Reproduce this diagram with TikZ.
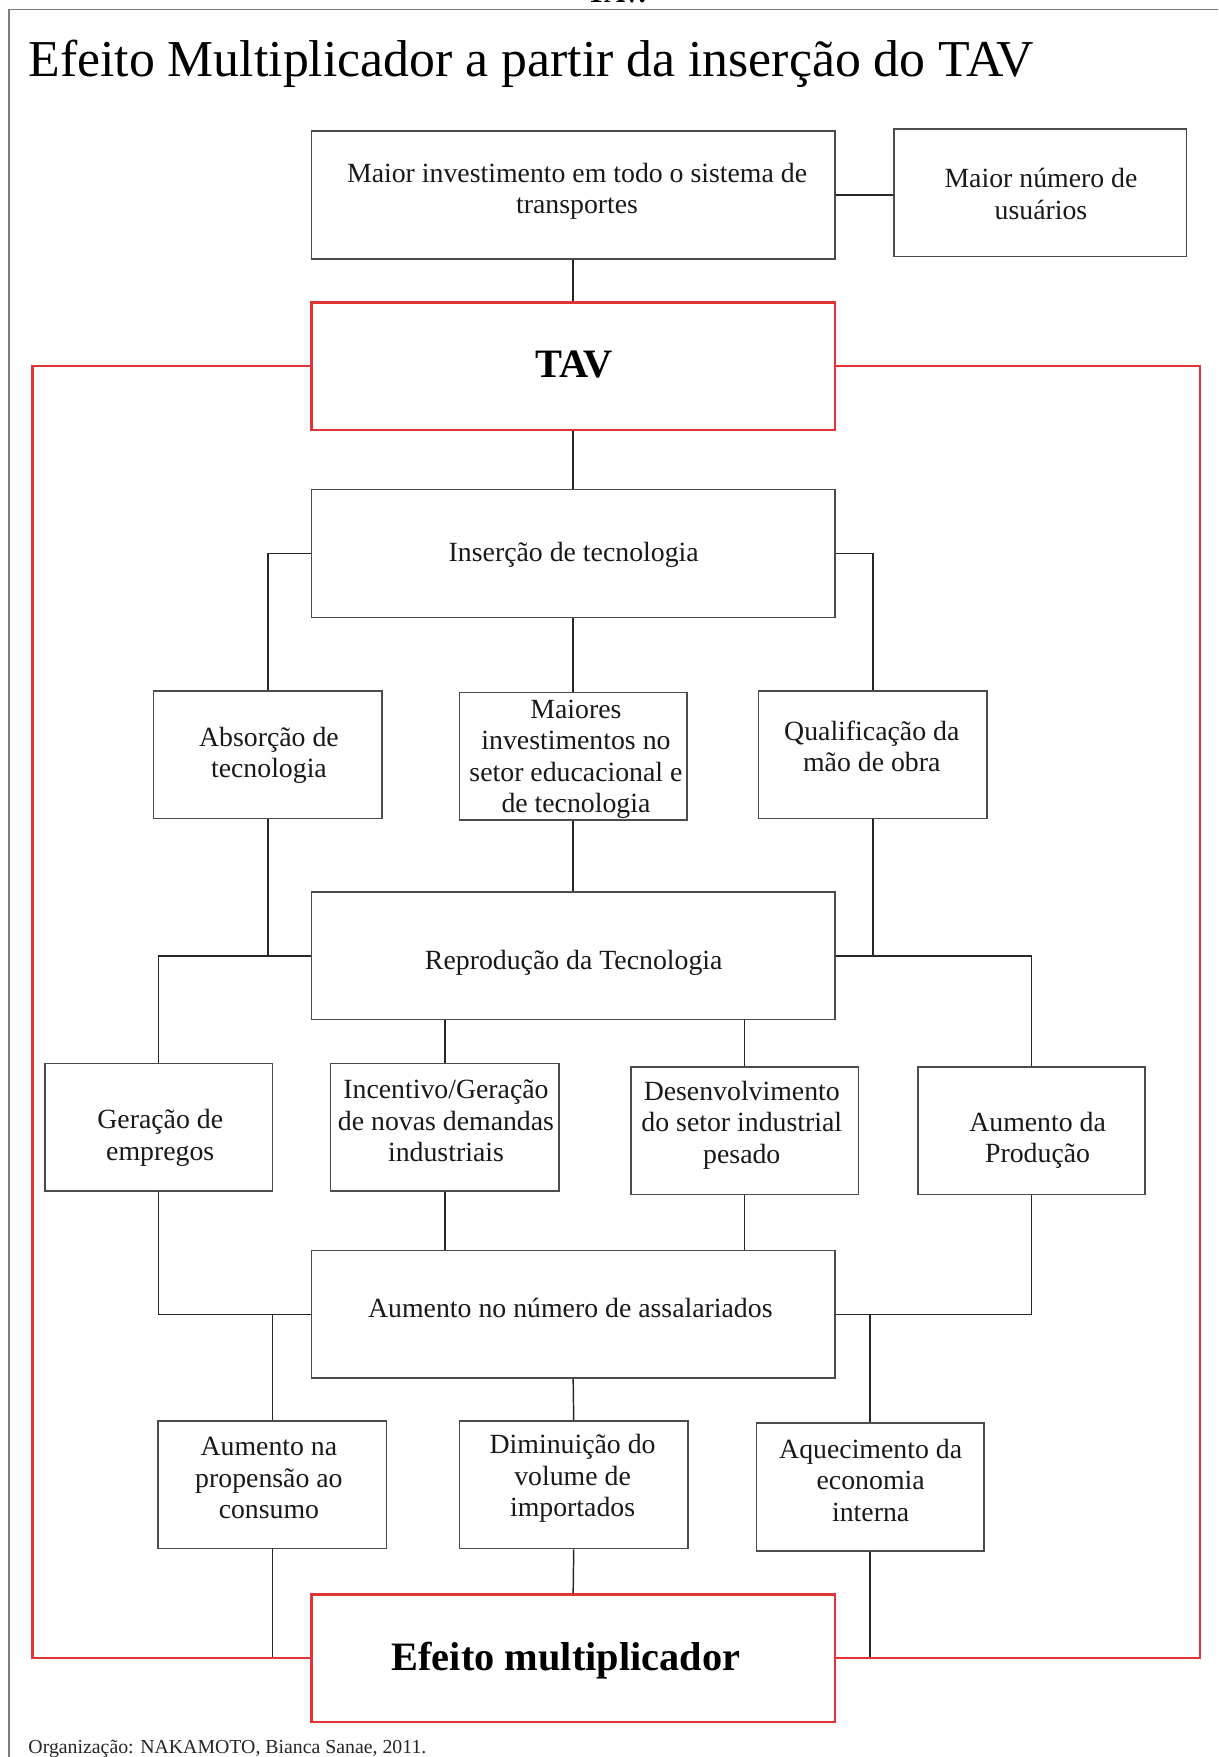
\documentclass[tikz,border=0pt]{standalone}
\usepackage{fontspec}
\setmainfont{Liberation Serif}
\definecolor{boxgray}{RGB}{75,75,75}
\definecolor{tavred}{RGB}{226,52,52}
\definecolor{framegray}{RGB}{125,125,125}
\begin{document}
\begin{tikzpicture}[x=0.5pt,y=-0.5pt,
  box/.style={draw=boxgray, line width=0.7pt, minimum width=#1, minimum height=57pt, inner sep=0pt},
  redbox/.style={draw=tavred, line width=1pt, minimum width=233.5pt, minimum height=57pt, inner sep=0pt},
  txt/.style={align=center, font=\fontsize{12.4}{14}\selectfont, inner sep=0pt, text=black!90},
  bigtxt/.style={font=\fontsize{18}{20}\selectfont\bfseries, inner sep=0pt},
  conn/.style={draw=black!85, line width=0.65pt},
  redline/.style={draw=tavred, line width=0.9pt}
]
\useasboundingbox (0,0) rectangle (1087,1568);
\fill[white] (0,0) rectangle (1087,1568);
% frame
\draw[framegray, line width=0.8pt] (1087,8.5) -- (8,8.5) -- (8,1568);
\node[anchor=base, font=\fontsize{13}{15}\selectfont\bfseries, inner sep=0pt] (toptxt) at (550,2.2) {TAV.};
% title
\node[anchor=base west, font=\fontsize{23.1}{27}\selectfont, inner sep=0pt] (title) at (25,68) {Efeito Multiplicador a partir da inserção do TAV};
% boxes
\node[box=233.5pt] (A) at (511.5,174) {};
\node[box=130.5pt] (B) at (928.5,172) {};
\node[redbox] (TAV) at (511.5,327) {};
\node[box=233.5pt] (Ins) at (511.5,494) {};
\node[box=102pt] (Abs) at (239,673.5) {};
\node[box=101.5pt] (Mai) at (511.5,675) {};
\node[box=102pt] (Qua) at (779,673.5) {};
\node[box=233.5pt] (Rep) at (511.5,853) {};
\node[box=101.5pt] (Ger) at (141.5,1006) {};
\node[box=102pt] (Inc) at (397,1006) {};
\node[box=101.5pt] (Des) at (664.5,1009) {};
\node[box=101.5pt] (Aum) at (920.5,1009) {};
\node[box=233.5pt] (Ass) at (511.5,1173) {};
\node[box=102pt] (Pro) at (243,1325) {};
\node[box=102pt] (Dim) at (512,1325) {};
\node[box=101.5pt] (Aq) at (776.5,1327) {};
\node[redbox] (Efe) at (511.5,1480) {};
% texts
\node[txt] (A-t) at (515,171) {Maior investimento em todo o sistema de\\transportes};
\node[txt] (B-t) at (929,173) {Maior número de\\usuários};
\node[bigtxt] (TAV-t) at (512,325.5) {TAV};
\node[txt] (Ins-t) at (512,495) {Inserção de tecnologia};
\node[txt] (Abs-t) at (240,674) {Absorção de\\tecnologia};
\node[txt] (Mai-t) at (514,677.5) {Maiores\\investimentos no\\setor educacional e\\de tecnologia};
\node[txt] (Qua-t) at (778,666) {Qualificação da\\mão de obra};
\node[txt] (Rep-t) at (512,859) {Reprodução da Tecnologia};
\node[txt] (Ger-t) at (143,1015.5) {Geração de\\empregos};
\node[txt] (Inc-t) at (398,1000.5) {Incentivo/Geração\\de novas demandas\\industriais};
\node[txt] (Des-t) at (662,1004) {Desenvolvimento\\do setor industrial\\pesado};
\node[txt] (Aum-t) at (926,1017.5) {Aumento da\\Produção};
\node[txt] (Ass-t) at (509,1167) {Aumento no número de assalariados};
\node[txt] (Pro-t) at (240,1319) {Aumento na\\propensão ao\\consumo};
\node[txt] (Dim-t) at (511,1319.5) {Diminuição do\\volume de\\importados};
\node[txt] (Aq-t) at (777,1321) {Aquecimento da\\economia\\interna};
\node[bigtxt] (Efe-t) at (505,1481.5) {Efeito multiplicador};
% footer
\node[anchor=base west, font=\fontsize{8.84}{10}\selectfont, inner sep=0pt, text=black!85] (foot) at (25,1565) {Organização: NAKAMOTO, Bianca Sanae, 2011.};
% connectors
\draw[conn] (A.east) -- (A.east -| B.west);
\draw[conn] (A.south) -- (TAV.north);
\draw[conn] (TAV.south) -- (Ins.north);
\draw[conn] (Ins.west) -| (Abs.north);
\draw[conn] (Ins.east) -| (Qua.north);
\draw[conn] (Ins.south) -- (Mai.north);
\draw[conn] (Abs.south) -- (Abs.south |- Rep.west);
\draw[conn] (Rep.west) -| (Ger.north);
\draw[conn] (Mai.south) -- (Rep.north);
\draw[conn] (Qua.south) -- (Qua.south |- Rep.east);
\draw[conn] (Rep.east) -| (Aum.north);
\draw[conn] (Inc.north |- Rep.south) -- (Inc.north);
\draw[conn] (Des.north |- Rep.south) -- (Des.north);
\draw[conn] (Ger.south) |- (Ass.west);
\draw[conn] (Inc.south) -- (Inc.south |- Ass.north);
\draw[conn] (Des.south) -- (Des.south |- Ass.north);
\draw[conn] (Aum.south) |- (Ass.east);
\draw[conn] (Ass.west -| Pro.north) -- (Pro.north);
\draw[conn] (Ass.east -| Aq.north) -- (Aq.north);
\draw[conn] (Ass.south) -- (Dim.north);
\draw[conn] (Pro.south) -- (Pro.south |- Efe.west);
\draw[conn] (Dim.south) -- (Efe.north);
\draw[conn] (Aq.south) -- (Aq.south |- Efe.east);
% red loop
\coordinate (lcol) at (29,900);
\coordinate (rcol) at (1071,900);
\draw[redline] (TAV.west) -| (lcol) |- (Efe.west);
\draw[redline] (TAV.east) -| (rcol) |- (Efe.east);
\end{tikzpicture}
\end{document}
